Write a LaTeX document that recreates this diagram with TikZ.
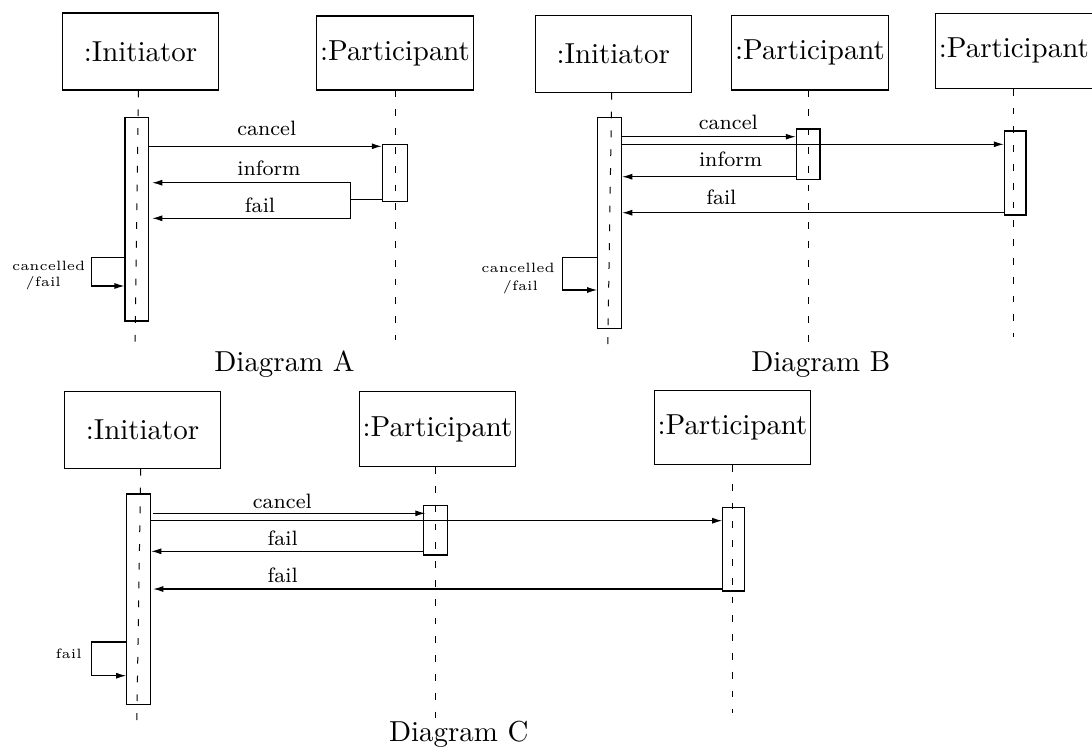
\documentclass[tikz,border=0pt]{standalone}
\usepackage{graphicx}
\usetikzlibrary{arrows.meta,calc}

% text sizes: object names / captions, message labels, self-call notes
\newcommand{\objtxt}[1]{\scalebox{1.32}{\fontsize{10.95}{13}\selectfont #1}}
\newcommand{\msgtxt}[1]{\scalebox{1.3}{\fontsize{8}{9.6}\selectfont #1}}
\newcommand{\notetxt}[1]{\scalebox{1.35}{\fontsize{5}{6}\selectfont #1}}

\begin{document}
\begin{tikzpicture}[x=0.5pt,y=-0.5pt,
  obj/.style={draw, line width=0.55pt, inner sep=0pt, minimum width=78.25pt},
  act/.style={draw, line width=0.55pt, inner sep=0pt},
  life/.style={line width=0.5pt, dash pattern=on 3.4pt off 6pt},
  call/.style={line width=0.55pt, -{Latex[length=5pt,width=3pt]}},
  plain/.style={line width=0.55pt},
  lbl/.style={anchor=base, inner sep=0pt},
]
\useasboundingbox (0,0) rectangle (1092,746);

%================ Diagram A ================
\node[obj, minimum height=38.5pt] (iA) at (140.5,51.5) {\objtxt{:Initiator}};
\node[obj, minimum height=37pt]   (pA) at (395,53)     {\objtxt{:Participant}};

\coordinate (iAend) at (135,350);
\coordinate (pAend) at (395,340);
\draw[life] ([xshift=-1pt]iA.south) -- (iAend);
\draw[life] (pA.south) -- (pAend);

\node[act, minimum width=11.85pt, minimum height=101.85pt] (aiA) at (136.85,219.15) {};
\node[act, minimum width=12.5pt,  minimum height=28.7pt]   (apA) at (394.8,173) {};

\draw[call] (aiA.east |- 0,146.3) -- (apA.west |- 0,146.3);
\node[lbl] at (266.7,135) {\msgtxt{cancel}};

% replies gathered on a short vertical fork left of the participant
\coordinate (forkA) at (350.5,199.3);
\coordinate (tipA) at ($(aiA.east)+(3,0)$);
\draw[plain] (apA.west |- forkA) -- (forkA);
\draw[plain] (forkA |- 0,182.7) -- (forkA |- 0,218.3);
\draw[call] (forkA |- 0,182.7) -- (tipA |- 0,182.7);
\draw[call] (forkA |- 0,218.3) -- (tipA |- 0,218.3);
\node[lbl] at (269,175)   {\msgtxt{inform}};
\node[lbl] at (260,212.3) {\msgtxt{fail}};

\coordinate (loopA) at (91.5,257.7);
\draw[call] (aiA.west |- loopA) -- (loopA) -- (loopA |- 0,286) -- (aiA.west |- 0,286);
\node[lbl] at (48.7,270.7) {\notetxt{cancelled}};
\node[lbl] at (43.3,286.7) {\notetxt{/fail}};

\node[lbl] (capA) at (284.5,371.7) {\objtxt{Diagram A}};

%================ Diagram B ================
\node[obj, minimum height=38.3pt]  (iB)  at (613.3,54)    {\objtxt{:Initiator}};
\node[obj, minimum height=37.15pt] (pB1) at (810,52.8)    {\objtxt{:Participant}};
\node[obj, minimum height=37.5pt]  (pB2) at (1013.8,50.8) {\objtxt{:Participant}};

\coordinate (iBend)  at (607.7,351.7);
\coordinate (pB1end) at (808,341.7);
\coordinate (pB2end) at (1013.8,336.7);
\draw[life] ([xshift=-0.8pt]iB.south) -- (iBend);
\draw[life] ([xshift=-1pt]pB1.south) -- (pB1end);
\draw[life] (pB2.south) -- (pB2end);

\node[act, minimum width=12pt,    minimum height=105.5pt] (aiB)  at (609.7,222.8) {};
\node[act, minimum width=11.85pt, minimum height=25.15pt] (apB1) at (808.15,154.15) {};
\node[act, minimum width=10.85pt, minimum height=42pt]    (apB2) at (1015.15,173) {};

\draw[call] (aiB.east |- 0,136.7) -- (apB1.west |- 0,136.7);
\draw[call] (aiB.east |- 0,144.3) -- (apB2.west |- 0,144.3);
\node[lbl] at (728.3,129.3) {\msgtxt{cancel}};

\draw[call] (apB1.west |- 0,176.7) -- (aiB.east |- 0,176.7);
\node[lbl] at (730.7,166.7) {\msgtxt{inform}};

\draw[call] (apB2.west |- 0,212.7) -- (aiB.east |- 0,212.7);
\node[lbl] at (721.3,204) {\msgtxt{fail}};

\coordinate (loopB) at (562.3,257.7);
\draw[call] (aiB.west |- loopB) -- (loopB) -- (loopB |- 0,290) -- (aiB.west |- 0,290);
\node[lbl] at (518,272.7) {\notetxt{cancelled}};
\node[lbl] at (520.5,290) {\notetxt{/fail}};

\node[lbl] (capB) at (820.8,371.7) {\objtxt{Diagram B}};

%================ Diagram C ================
\node[obj, minimum height=38.3pt]  (iC)  at (142.5,430)   {\objtxt{:Initiator}};
\node[obj, minimum height=37.5pt]  (pC1) at (437.5,429.2) {\objtxt{:Participant}};
\node[obj, minimum height=37.15pt] (pC2) at (732.5,427.2) {\objtxt{:Participant}};

\coordinate (iCend)  at (136.7,728.3);
\coordinate (pC1end) at (435.3,723.3);
\coordinate (pC2end) at (732.5,713.3);
\draw[life] ([xshift=-0.9pt]iC.south) -- (iCend);
\draw[life] ([xshift=-1.1pt]pC1.south) -- (pC1end);
\draw[life] (pC2.south) -- (pC2end);

\node[act, minimum width=12pt,   minimum height=105.15pt] (aiC)  at (138.7,599.15) {};
\node[act, minimum width=12pt,   minimum height=24.85pt]  (apC1) at (435.3,530.15) {};
\node[act, minimum width=10.8pt, minimum height=41.85pt]  (apC2) at (733.5,549.15) {};

\coordinate (srcC) at ($(aiC.east)+(1.5,0)$);
\coordinate (dstC) at ($(apC1.west)+(2.5,0)$);
\coordinate (tipC) at ($(aiC.east)+(2,0)$);

\draw[call] (srcC |- 0,513.3) -- (dstC |- 0,513.3);
\draw[call] (aiC.east |- 0,520.7) -- (apC2.west |- 0,520.7);
\node[lbl] at (282.3,508.3) {\msgtxt{cancel}};

\draw[call] (apC1.west |- 0,551.3) -- (aiC.east |- 0,551.3);
\node[lbl] at (282.7,545.7) {\msgtxt{fail}};

\draw[call] (apC2.west |- 0,589) -- (tipC |- 0,589);
\node[lbl] at (282.7,582.7) {\msgtxt{fail}};

\coordinate (loopC) at (91.7,642);
\draw[call] (aiC.west |- loopC) -- (loopC) -- (loopC |- 0,675.7) -- (aiC.west |- 0,675.7);
\node[lbl] at (68.7,658.7) {\notetxt{fail}};

\node[lbl] (capC) at (458.8,741.5) {\objtxt{Diagram C}};
\end{tikzpicture}
\end{document}
